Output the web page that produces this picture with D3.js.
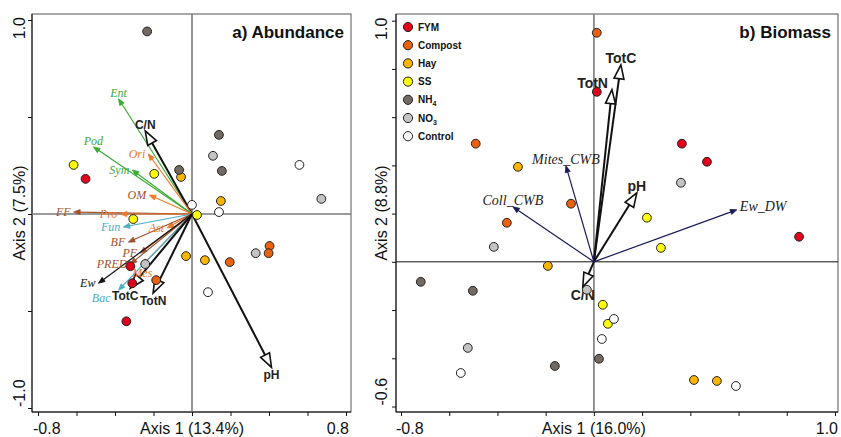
<!DOCTYPE html>
<html><head><meta charset="utf-8">
<script src="https://cdn.jsdelivr.net/npm/d3@7"></script>
<style>body{margin:0;background:#fff} svg{display:block}</style>
</head><body><svg id="c" width="841" height="437"></svg>
<script>
// ---------- DATA ----------
const treatments = ["FYM","Compost","Hay","SS","NH4","NO3","Control"];
const treatmentColors = ["#e3001b","#ea6110","#f9b500","#ffff00","#726a62","#c3c3c3","#ffffff"];

// panel a) Abundance – site scores per treatment [axis1, axis2]
const abundFYM     = [[-0.553,0.181],[-0.320,-0.269],[-0.310,-0.357],[-0.341,-0.553]];
const abundCompost = [[0.403,-0.165],[0.398,-0.202],[0.196,-0.248],[-0.186,-0.341]];
const abundHay     = [[-0.057,0.191],[0.150,0.067],[-0.031,-0.217],[0.067,-0.238]];
const abundSS      = [[-0.615,0.253],[-0.196,0.207],[-0.305,-0.026],[0.026,-0.005]];
const abundNH4     = [[-0.233,0.941],[-0.067,0.227],[0.140,0.408],[0.155,0.222]];
const abundNO3     = [[0.109,0.300],[0.672,0.078],[0.331,-0.202],[-0.243,-0.258]];
const abundControl = [[0.558,0.253],[0.140,0.010],[0.000,0.047],[0.083,-0.403]];

// panel a) vectors
const abundVecNames = ["Ent","C/N","Pod","Ori","Sym","OM","FF","Pro","Fun","Ast","BF","PF","PRED","Mes","Ew","Bac","TotC","TotN","pH"];
const abundVecX     = [-0.382,-0.243,-0.512,-0.227,-0.310,-0.222,-0.615,-0.372,-0.357,-0.129,-0.331,-0.269,-0.320,-0.258,-0.486,-0.382,-0.320,-0.202,0.413];
const abundVecY     = [0.594,0.429,0.346,0.310,0.227,0.098,0.010,0.000,-0.067,-0.072,-0.145,-0.202,-0.258,-0.264,-0.357,-0.393,-0.382,-0.408,-0.791];
const abundVecGroup = ["green","soil","green","orange","green","om","brown","orange","blue","orange","brown","brown","brown","orange","black","blue","soil","soil","soil"];
const abundVecSide  = ["above","above","above","left","left","left","left","left","left","left","left","left","left","below","left","leftlow","belowleft","below","below"];

// panel b) Biomass – site scores per treatment
const bioFYM     = [[0.012,0.705],[0.365,0.490],[0.469,0.415],[0.851,0.104]];
const bioCompost = [[0.012,0.950],[-0.490,0.490],[-0.095,0.241],[-0.361,0.162]];
const bioHay     = [[-0.315,0.394],[-0.191,-0.017],[0.415,-0.490],[0.510,-0.494]];
const bioSS      = [[0.220,0.183],[0.278,0.058],[0.037,-0.178],[0.058,-0.257]];
const bioNH4     = [[-0.718,-0.083],[-0.502,-0.120],[-0.162,-0.432],[0.021,-0.402]];
const bioNO3     = [[0.361,0.328],[-0.415,0.062],[-0.029,-0.116],[-0.523,-0.357]];
const bioControl = [[0.083,-0.237],[0.033,-0.320],[-0.552,-0.461],[0.589,-0.515]];

// panel b) vectors
const bioVecNames = ["TotC","TotN","pH","C/N","Mites_CWB","Coll_CWB","Ew_DW"];
const bioVecX     = [0.112,0.075,0.178,-0.046,-0.116,-0.336,0.593];
const bioVecY     = [0.817,0.714,0.286,-0.104,0.398,0.228,0.216];
const bioVecGroup = ["soil","soil","soil","soil","navy","navy","navy"];
const bioVecSide  = ["above","aboveleft","above","below","above","above","right"];

// axes
const abundXTicks = [-0.8,-0.6,-0.4,-0.2,0,0.2,0.4,0.6,0.8];
const abundYTicks = [-1,-0.5,0,0.5,1];
const bioXTicks   = [-0.8,-0.6,-0.4,-0.2,0,0.2,0.4,0.6,0.8,1.0];
const bioYTicks   = [-0.6,-0.4,-0.2,0,0.2,0.4,0.6,0.8,1.0];
const abundXLabels = ["-0.8","0.8"], abundYLabels = ["-1.0","1.0"];
const bioXLabels   = ["-0.8","1.0"], bioYLabels   = ["-0.6","1.0"];

// ---------- STYLE ----------
const groupColor = {green:"#3bab34", orange:"#f0782a", brown:"#a0522d", om:"#f0782a", blue:"#4aadc8", black:"#111", soil:"#111", navy:"#1a1a5a"};
const labelColor = {green:"#3bab34", orange:"#f0782a", brown:"#a0522d", om:"#a0522d", blue:"#4aadc8", black:"#111", soil:"#222", navy:"#222"};
const SANS = "'Liberation Sans', Arial, sans-serif";
const SERIF = "'Liberation Serif', 'Times New Roman', serif";

const svg = d3.select("#c");

function panel(cfg) {
  const g = svg.append("g");
  const xs = d3.scaleLinear().domain(cfg.xDom).range(cfg.xRange);
  const ys = d3.scaleLinear().domain(cfg.yDom).range(cfg.yRange);
  const [fx0, fx1, fy0, fy1] = cfg.frame;
  // frame
  g.append("rect").attr("x", fx0).attr("y", fy0).attr("width", fx1 - fx0).attr("height", fy1 - fy0)
    .attr("fill", "none").attr("stroke", "#555").attr("stroke-width", 1);
  // axes
  const ax = g.append("g").attr("transform", `translate(0,${fy1})`)
    .call(d3.axisBottom(xs).tickValues(cfg.xTicks).tickSize(4).tickFormat(""));
  ax.select(".domain").remove();
  ax.selectAll("line").attr("stroke", "#111");
  g.append("line").attr("x1", fx0).attr("x2", fx1).attr("y1", fy1).attr("y2", fy1).attr("stroke", "#111");
  const ay = g.append("g").attr("transform", `translate(${fx0},0)`)
    .call(d3.axisLeft(ys).tickValues(cfg.yTicks).tickSize(4).tickFormat(""));
  ay.select(".domain").remove();
  ay.selectAll("line").attr("stroke", "#111");
  g.append("line").attr("x1", fx0).attr("x2", fx0).attr("y1", fy0).attr("y2", fy1).attr("stroke", "#111");

  // tick labels at ends
  const xt = [cfg.xTicks[0], cfg.xTicks[cfg.xTicks.length - 1]];
  g.append("text").attr("x", xs(xt[0]) - 5).attr("y", 434).attr("text-anchor", "start")
    .attr("font-family", SANS).attr("font-size", 16).attr("fill", "#111").text(cfg.xLabels[0]);
  g.append("text").attr("x", xs(xt[1]) + 3).attr("y", 434).attr("text-anchor", "end")
    .attr("font-family", SANS).attr("font-size", 16).attr("fill", "#111").text(cfg.xLabels[1]);
  const yt = [cfg.yTicks[0], cfg.yTicks[cfg.yTicks.length - 1]];
  g.append("text").attr("transform", `translate(${cfg.yLabX},${ys(yt[0]) - 1}) rotate(-90)`)
    .attr("text-anchor", "start").attr("dy", "0.35em")
    .attr("font-family", SANS).attr("font-size", 16).attr("fill", "#111").text(cfg.yLabels[0]);
  g.append("text").attr("transform", `translate(${cfg.yLabX},${ys(yt[1]) - 3}) rotate(-90)`)
    .attr("text-anchor", "end").attr("dy", "0.35em")
    .attr("font-family", SANS).attr("font-size", 16).attr("fill", "#111").text(cfg.yLabels[1]);
  // axis titles
  g.append("text").attr("x", xs(0)).attr("y", 434).attr("text-anchor", "middle")
    .attr("font-family", SANS).attr("font-size", 16).attr("fill", "#111").text(cfg.xTitle);
  g.append("text").attr("transform", `translate(${cfg.yLabX},${(fy0 + fy1) / 2}) rotate(-90)`)
    .attr("text-anchor", "middle").attr("dy", "0.35em")
    .attr("font-family", SANS).attr("font-size", 16).attr("fill", "#111").text(cfg.yTitle);

  // zero lines
  g.append("line").attr("x1", xs(0)).attr("x2", xs(0)).attr("y1", fy0).attr("y2", fy1)
    .attr("stroke", "#7a7a7a").attr("stroke-width", 1.6);
  g.append("line").attr("x1", fx0).attr("x2", fx1).attr("y1", ys(0)).attr("y2", ys(0))
    .attr("stroke", cfg.hZeroColor).attr("stroke-width", cfg.hZeroWidth);

  // vectors
  const vg = g.append("g");
  const lg = g.append("g");
  cfg.vecNames.forEach((name, i) => {
    const x0 = xs(0), y0 = ys(0), x1 = xs(cfg.vecX[i]), y1 = ys(cfg.vecY[i]);
    const grp = cfg.vecGroup[i];
    const thick = grp === "soil";
    const col = groupColor[grp];
    const dx = x1 - x0, dy = y1 - y0, L = Math.hypot(dx, dy), ux = dx / L, uy = dy / L;
    const hl = thick ? 14 : 6.5, hw = thick ? 5 : 2.6;
    const bx = x1 - ux * hl, by = y1 - uy * hl;
    vg.append("line").attr("x1", x0).attr("y1", y0)
      .attr("x2", thick ? bx : x1 - ux * hl * 0.6).attr("y2", thick ? by : y1 - uy * hl * 0.6)
      .attr("stroke", col).attr("stroke-width", thick ? 2 : 1.2);
    vg.append("polygon")
      .attr("points", [[x1, y1], [bx - uy * hw, by + ux * hw], [bx + uy * hw, by - ux * hw]].map(p => p.join(",")).join(" "))
      .attr("fill", thick ? "#fff" : col).attr("stroke", col).attr("stroke-width", thick ? 1.6 : 0.8)
      .attr("stroke-linejoin", "miter");
    // label
    const side = cfg.vecSide[i];
    const t = lg.append("text").text(name).attr("fill", labelColor[grp]);
    if (thick) t.attr("font-family", SANS).attr("font-weight", "bold").attr("font-size", cfg.boldSize);
    else t.attr("font-family", SERIF).attr("font-style", "italic").attr("font-size", cfg.italicSize);
    const gap = 2;
    if (side === "above") t.attr("x", x1).attr("y", y1 - gap).attr("text-anchor", "middle");
    else if (side === "aboveleft") t.attr("x", x1 - 4).attr("y", y1 - 2).attr("text-anchor", "end");
    else if (side === "below") t.attr("x", x1).attr("y", y1 + gap).attr("dy", "0.8em").attr("text-anchor", "middle");
    else if (side === "belowleft") t.attr("x", x1 + 8).attr("y", y1 + gap).attr("dy", "0.8em").attr("text-anchor", "end");
    else if (side === "leftlow") t.attr("x", x1 - 8).attr("y", y1 + 8).attr("dy", "0.35em").attr("text-anchor", "end");
    else if (side === "left") t.attr("x", x1 - gap - 1).attr("y", y1).attr("dy", "0.35em").attr("text-anchor", "end");
    else t.attr("x", x1 + gap + 1).attr("y", y1).attr("dy", "0.1em").attr("text-anchor", "start");
  });

  // points
  const pg = g.append("g");
  cfg.scores.forEach((arr, k) => {
    arr.forEach(p => {
      pg.append("circle").attr("cx", xs(p[0])).attr("cy", ys(p[1])).attr("r", 4.4)
        .attr("fill", treatmentColors[k]).attr("stroke", "#222").attr("stroke-width", 1);
    });
  });

  // title
  g.append("text").attr("x", fx1 - 7).attr("y", 38).attr("text-anchor", "end")
    .attr("font-family", SANS).attr("font-weight", "bold").attr("font-size", 17).attr("fill", "#111").text(cfg.title);
  return g;
}

panel({
  xDom: [-0.8, 0.8], xRange: [38, 346], yDom: [-1, 1], yRange: [408, 20],
  frame: [32, 351, 14, 412],
  xTicks: abundXTicks, yTicks: abundYTicks, xLabels: abundXLabels, yLabels: abundYLabels,
  yLabX: 19, xTitle: "Axis 1 (13.4%)", yTitle: "Axis 2 (7.5%)",
  hZeroColor: "#7a7a7a", hZeroWidth: 1.6,
  vecNames: abundVecNames, vecX: abundVecX, vecY: abundVecY, vecGroup: abundVecGroup, vecSide: abundVecSide,
  boldSize: 12, italicSize: 12,
  scores: [abundFYM, abundCompost, abundHay, abundSS, abundNH4, abundNO3, abundControl],
  title: "a) Abundance"
});

const pb = panel({
  xDom: [-0.8, 1.0], xRange: [401, 835], yDom: [-0.6, 1.0], yRange: [406.5, 20.7],
  frame: [396, 838, 14, 412],
  xTicks: bioXTicks, yTicks: bioYTicks, xLabels: bioXLabels, yLabels: bioYLabels,
  yLabX: 381, xTitle: "Axis 1 (16.0%)", yTitle: "Axis 2 (8.8%)",
  hZeroColor: "#111", hZeroWidth: 1,
  vecNames: bioVecNames, vecX: bioVecX, vecY: bioVecY, vecGroup: bioVecGroup, vecSide: bioVecSide,
  boldSize: 14, italicSize: 14,
  scores: [bioFYM, bioCompost, bioHay, bioSS, bioNH4, bioNO3, bioControl],
  title: "b) Biomass"
});

// legend
const leg = pb.append("g").attr("transform", "translate(408,27)");
treatments.forEach((name, i) => {
  const row = leg.append("g").attr("transform", `translate(0,${i * 18.2})`);
  row.append("circle").attr("r", 4.6).attr("fill", treatmentColors[i]).attr("stroke", "#222").attr("stroke-width", 1);
  const t = row.append("text").attr("x", 10).attr("dy", "0.35em")
    .attr("font-family", SANS).attr("font-weight", "bold").attr("font-size", 10).attr("fill", "#111");
  const m = name.match(/^(.*?)(\d)$/);
  if (m) {
    t.append("tspan").text(m[1]);
    t.append("tspan").attr("font-size", 7).attr("dy", "3").text(m[2]);
  } else t.text(name);
});
</script></body></html>
